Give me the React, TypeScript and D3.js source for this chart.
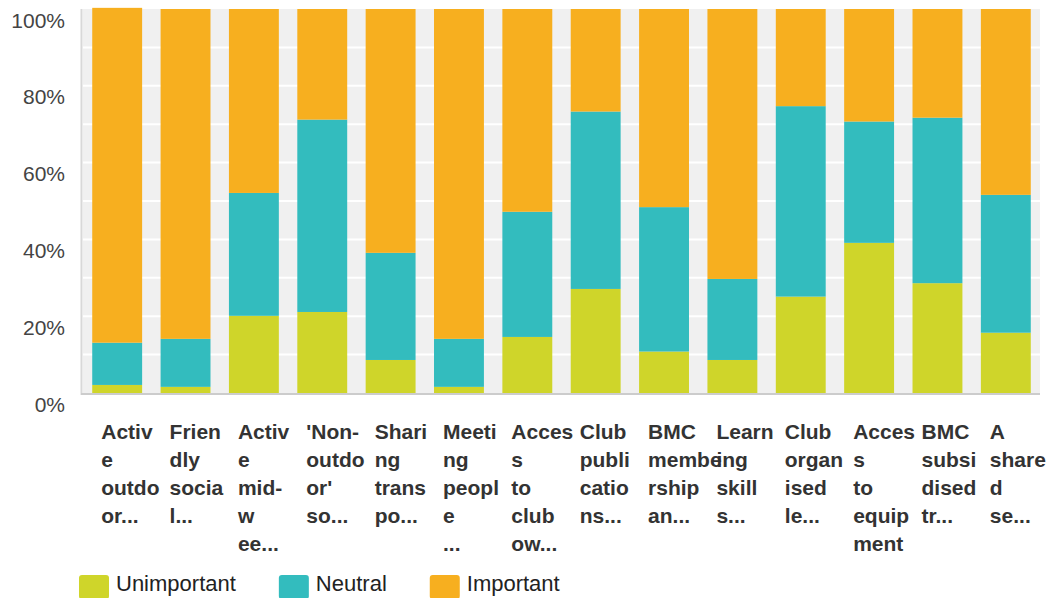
import React, { useRef, useEffect } from "react";
import * as d3 from "d3";

const categories = [
  "Active outdoor",
  "Friendly social",
  "Active mid-week",
  "'Non-outdoor' social",
  "Sharing transport",
  "Meeting people",
  "Access to club own",
  "Club publications",
  "BMC membership",
  "Learning skills",
  "Club organised",
  "Access to equipment",
  "BMC subsidised",
  "A shared",
];

// wrapped tick labels, as shown under each bar
const tickLines = [
  ["Activ", "e", "outdo", "or..."],
  ["Frien", "dly", "socia", "l..."],
  ["Activ", "e", "mid-", "w", "ee..."],
  ["'Non-", "outdo", "or'", "so..."],
  ["Shari", "ng", "trans", "po..."],
  ["Meeti", "ng", "peopl", "e", "..."],
  ["Acces", "s", "to", "club", "ow..."],
  ["Club", "publi", "catio", "ns..."],
  ["BMC", "membe", "rship", "an..."],
  ["Learn", "ing", "skill", "s..."],
  ["Club", "organ", "ised", "le..."],
  ["Acces", "s", "to", "equip", "ment"],
  ["BMC", "subsi", "dised", "tr..."],
  ["A", "share", "d", "se..."],
];

const unimportant = [2.1, 1.6, 20.1, 21.1, 8.6, 1.6, 14.6, 27.1, 10.8, 8.6, 25.1, 39.1, 28.6, 15.7];
const neutral = [11.0, 12.5, 32.0, 50.1, 27.9, 12.5, 32.6, 46.2, 37.6, 21.1, 49.6, 31.6, 43.1, 35.9];
const important = [87.2, 85.9, 47.9, 28.8, 63.5, 85.9, 52.8, 26.7, 51.6, 70.3, 25.3, 29.3, 28.3, 48.4];

const seriesNames = ["Unimportant", "Neutral", "Important"];
const seriesColors = ["#CFD52A", "#33BCBE", "#F7AF1F"];

const yTicks = [0, 20, 40, 60, 80, 100];
const gridTicks = [10, 20, 30, 40, 50, 60, 70, 80, 90];

const W = 1047;
const H = 598;
const FONT = "'Liberation Sans', Arial, sans-serif";

export default function App() {
  const svgRef = useRef<SVGSVGElement>(null);

  useEffect(() => {
    const svg = d3.select(svgRef.current);
    svg.selectAll("*").remove();

    const left = 83;
    const right = 1040;
    const top = 9;
    const bottom = 393;

    const rows = categories.map((c, i) => ({
      key: String(i),
      Unimportant: unimportant[i],
      Neutral: neutral[i],
      Important: important[i],
    }));

    const x = d3
      .scaleBand()
      .domain(rows.map((d) => d.key))
      .range([left, right])
      .paddingInner(0.27)
      .paddingOuter(0.135);

    const y = d3.scaleLinear().domain([0, 100]).range([bottom, top]);

    const stack = d3.stack().keys(seriesNames);
    const series = stack(rows as any);

    // plot background
    svg
      .append("rect")
      .attr("x", left)
      .attr("y", top)
      .attr("width", right - left)
      .attr("height", bottom - top)
      .attr("fill", "#F0F0F0");

    // gridlines
    svg
      .append("g")
      .selectAll("line")
      .data(gridTicks)
      .join("line")
      .attr("x1", left)
      .attr("x2", right)
      .attr("y1", (d) => y(d))
      .attr("y2", (d) => y(d))
      .attr("stroke", "#fff")
      .attr("stroke-width", 2);

    // bars
    svg
      .append("g")
      .selectAll("g")
      .data(series)
      .join("g")
      .attr("fill", (_, i) => seriesColors[i])
      .selectAll("rect")
      .data((d) => d)
      .join("rect")
      .attr("x", (d: any) => x(d.data.key)!)
      .attr("y", (d) => y(d[1]))
      .attr("width", x.bandwidth())
      .attr("height", (d) => y(d[0]) - y(d[1]));

    // axes lines
    svg
      .append("line")
      .attr("x1", 81.5)
      .attr("x2", 81.5)
      .attr("y1", top)
      .attr("y2", bottom + 2)
      .attr("stroke", "#d8d8d8")
      .attr("stroke-width", 2);
    svg
      .append("line")
      .attr("x1", 81)
      .attr("x2", right)
      .attr("y1", bottom + 1)
      .attr("y2", bottom + 1)
      .attr("stroke", "#cccccc")
      .attr("stroke-width", 2);

    // y labels
    svg
      .append("g")
      .selectAll("text")
      .data(yTicks)
      .join("text")
      .attr("x", 65)
      .attr("y", (d) => y(d) + 18.5)
      .attr("text-anchor", "end")
      .attr("font-family", FONT)
      .attr("font-size", 21)
      .attr("fill", "#444")
      .text((d) => d + "%");

    // x labels
    const xl = svg
      .append("g")
      .selectAll("text")
      .data(rows)
      .join("text")
      .attr("font-family", FONT)
      .attr("font-size", 21)
      .attr("font-weight", "bold")
      .attr("fill", "#333");
    xl.each(function (d, i) {
      const t = d3.select(this);
      tickLines[i].forEach((line, j) => {
        t.append("tspan")
          .attr("x", x(d.key)! + 9)
          .attr("y", 439 + j * 28)
          .text(line);
      });
    });

    // legend
    const lg = svg.append("g");
    let lx = 79;
    seriesNames.forEach((name, i) => {
      lg.append("rect")
        .attr("x", lx)
        .attr("y", 575)
        .attr("width", 30)
        .attr("height", 24)
        .attr("rx", 3)
        .attr("fill", seriesColors[i]);
      const txt = lg
        .append("text")
        .attr("x", lx + 37)
        .attr("y", 591)
        .attr("font-family", FONT)
        .attr("font-size", 22)
        .attr("fill", "#222")
        .text(name);
      const w = (txt.node() as SVGTextElement).getComputedTextLength();
      lx += 37 + w + 43;
    });
  }, []);

  return (
    <div style={{ position: "absolute", left: 0, top: 0, width: W, height: H, overflow: "hidden", background: "#fff" }}>
      <svg ref={svgRef} width={W} height={H} style={{ display: "block" }} />
    </div>
  );
}
